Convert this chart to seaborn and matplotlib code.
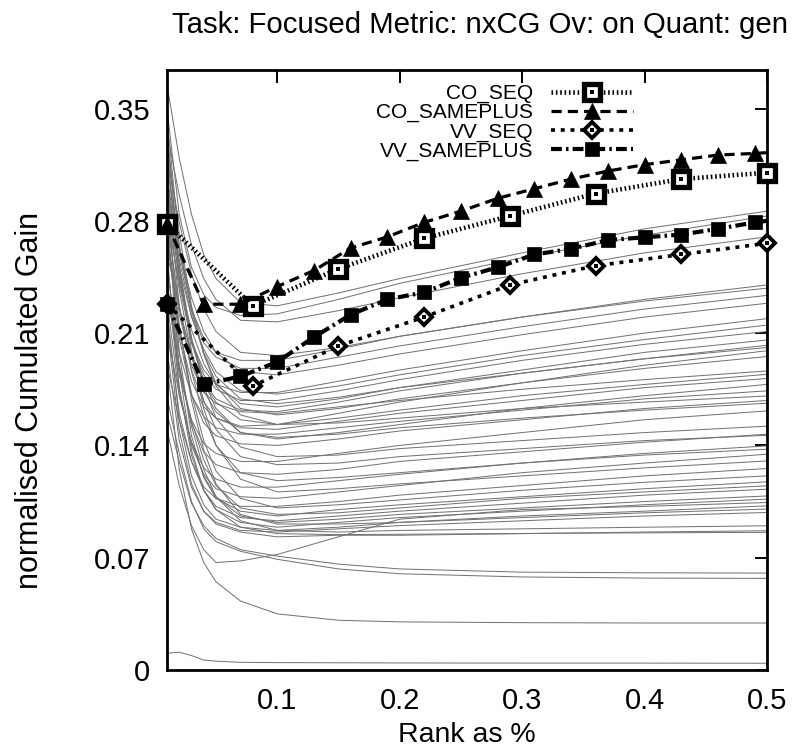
import matplotlib
matplotlib.use("Agg")
import numpy as np
import pandas as pd
import matplotlib.pyplot as plt
import seaborn as sns
from matplotlib.lines import Line2D
from matplotlib.legend_handler import HandlerTuple

# ---------------- data ----------------
title = "Task: Focused Metric: nxCG Ov: on Quant: gen"
x_label = "Rank as %"
y_label = "normalised Cumulated Gain"
x_ticks = [0.1, 0.2, 0.3, 0.4, 0.5]
x_tick_labels = ["0.1", "0.2", "0.3", "0.4", "0.5"]
y_ticks = [0, 0.07, 0.14, 0.21, 0.28, 0.35]
y_tick_labels = ["0", "0.07", "0.14", "0.21", "0.28", "0.35"]

# background runs (thin grey curves), sampled at these ranks
run_x = [0.01, 0.02, 0.03, 0.04, 0.05, 0.07, 0.10, 0.15, 0.20, 0.30, 0.40, 0.50]
background_runs = [
    [.365, .319, .284, .259, .244, .229, .227, .235, .244, .260, .275, .286],
    [.350, .284, .251, .234, .226, .221, .222, .231, .241, .257, .271, .283],
    [.335, .296, .265, .244, .231, .218, .217, .224, .232, .247, .260, .270],
    [.330, .260, .225, .207, .198, .193, .193, .200, .208, .220, .231, .240],
    [.320, .279, .247, .225, .211, .198, .196, .201, .208, .220, .230, .238],
    [.345, .265, .225, .204, .195, .188, .188, .195, .202, .214, .225, .2335],
    [.300, .262, .232, .211, .198, .186, .184, .190, .197, .209, .220, .2286],
    [.310, .240, .205, .187, .178, .173, .173, .180, .187, .199, .210, .219],
    [.290, .251, .220, .200, .186, .174, .172, .177, .184, .196, .206, .215],
    [.325, .245, .205, .184, .175, .168, .168, .174, .181, .193, .203, .211],
    [.280, .242, .212, .191, .178, .166, .164, .169, .176, .187, .198, .2057],
    [.340, .249, .204, .180, .169, .162, .161, .167, .174, .185, .194, .2024],
    [.300, .256, .221, .198, .183, .169, .166, .170, .176, .185, .194, .201],
    [.270, .210, .180, .164, .157, .152, .153, .160, .167, .179, .190, .199],
    [.315, .264, .224, .197, .179, .163, .159, .163, .169, .179, .188, .1954],
    [.285, .222, .190, .173, .166, .161, .160, .164, .168, .175, .181, .1864],
    [.260, .225, .197, .179, .167, .156, .153, .157, .162, .171, .178, .1843],
    [.305, .227, .187, .167, .157, .151, .150, .155, .160, .168, .176, .1817],
    [.295, .245, .207, .180, .163, .148, .144, .148, .153, .163, .171, .178],
    [.250, .198, .171, .158, .151, .147, .147, .151, .155, .162, .169, .174],
    [.330, .272, .227, .197, .177, .159, .153, .154, .157, .163, .167, .1708],
    [.275, .207, .172, .154, .146, .141, .140, .144, .149, .156, .163, .168],
    [.265, .226, .195, .174, .161, .148, .145, .147, .151, .157, .162, .1663],
    [.240, .184, .156, .141, .135, .130, .130, .135, .140, .148, .156, .1615],
    [.310, .252, .207, .177, .157, .139, .133, .134, .138, .143, .148, .152],
    [.255, .188, .154, .136, .128, .123, .122, .125, .130, .136, .142, .147],
    [.290, .237, .196, .168, .150, .133, .128, .129, .133, .138, .143, .1463],
    [.230, .171, .142, .126, .119, .114, .114, .118, .122, .129, .135, .1397],
    [.280, .227, .186, .158, .140, .123, .118, .120, .123, .129, .134, .1376],
    [.245, .175, .140, .122, .113, .108, .107, .111, .115, .123, .129, .1345],
    [.320, .252, .199, .163, .140, .119, .111, .113, .116, .121, .126, .1303],
    [.220, .160, .130, .114, .107, .102, .102, .105, .109, .115, .121, .1256],
    [.270, .215, .172, .143, .124, .107, .101, .103, .106, .112, .117, .121],
    [.300, .198, .146, .120, .107, .099, .096, .100, .103, .108, .113, .1173],
    [.235, .190, .155, .131, .115, .101, .097, .098, .101, .107, .111, .1148],
    [.260, .176, .134, .112, .102, .095, .093, .096, .099, .104, .109, .1127],
    [.210, .172, .142, .121, .108, .096, .092, .094, .097, .101, .105, .1085],
    [.285, .187, .137, .112, .100, .092, .089, .092, .095, .099, .103, .1065],
    [.150, .115, .090, .075, .067, .068, .072, .083, .094, .100, .102, .1044],
    [.225, .156, .121, .103, .094, .089, .087, .089, .092, .096, .099, .1023],
    [.275, .215, .168, .137, .116, .097, .091, .091, .092, .095, .098, .1003],
    [.200, .143, .114, .099, .092, .087, .086, .088, .090, .093, .096, .0982],
    [.240, .190, .152, .125, .108, .093, .087, .086, .087, .088, .089, .0899],
    [.215, .149, .116, .099, .091, .086, .083, .084, .084, .085, .086, .0868],
    [.190, .156, .130, .112, .100, .089, .085, .0844, .0846, .0851, .0855, .0858],
    [.160, .130, .104, .090, .082, .075, .071, .066, .063, .061, .0606, .0604],
    [.170, .135, .105, .088, .080, .074, .069, .063, .060, .058, .0573, .0571],
    [.190, .125, .088, .067, .055, .043, .035, .031, .030, .0295, .0293, .0293],
    [.0104, .0111, .0090, .0062, .0055, .0048, .0046, .0045, .0044, .0043, .0043, .0042],
]

# highlighted runs
seq_x = [0.01, 0.08, 0.15, 0.22, 0.29, 0.36, 0.43, 0.50]
co_seq_y = [0.278, 0.227, 0.250, 0.269, 0.283, 0.297, 0.306, 0.310]
vv_seq_y = [0.228, 0.177, 0.202, 0.220, 0.240, 0.252, 0.259, 0.266]

sameplus_x = [0.01, 0.04, 0.07, 0.10, 0.13, 0.16, 0.19, 0.22, 0.25, 0.28,
              0.31, 0.34, 0.37, 0.40, 0.43, 0.46, 0.49, 0.50]
co_sameplus_y = [0.278, 0.228, 0.228, 0.239, 0.249, 0.263, 0.270, 0.279, 0.286,
                 0.294, 0.300, 0.306, 0.311, 0.315, 0.318, 0.321, 0.322, 0.3225]
vv_sameplus_y = [0.228, 0.178, 0.183, 0.192, 0.2075, 0.2215, 0.231, 0.2354, 0.2445,
                 0.251, 0.259, 0.2625, 0.268, 0.2697, 0.2714, 0.275, 0.279, 0.280]

series_names = ["CO_SEQ", "CO_SAMEPLUS", "VV_SEQ", "VV_SAMEPLUS"]

# ---------------- plot ----------------
sns.set_theme(style="white")
plt.rcParams["font.family"] = ["Liberation Sans", "DejaVu Sans"]
plt.rcParams["text.color"] = "black"
plt.rcParams["axes.labelcolor"] = "black"
plt.rcParams["xtick.color"] = "black"
plt.rcParams["ytick.color"] = "black"

fig = plt.figure(figsize=(7.94, 7.56), dpi=100)
ax = fig.add_axes([167 / 794, 1 - 670 / 756, 600 / 794, 600 / 756])

bg = pd.DataFrame(
    [(i, xv, yv) for i, run in enumerate(background_runs) for xv, yv in zip(run_x, run)],
    columns=["run", "x", "y"],
)
sns.lineplot(data=bg, x="x", y="y", units="run", estimator=None, color="#727272",
             linewidth=0.72, ax=ax, legend=False)

K = "black"
# CO_SEQ
co_seq_style = dict(color=K, linewidth=3.3, linestyle=(0, (0.35, 0.6)), dash_capstyle="butt",
                    marker="s", markersize=11, markerfacecolor="white",
                    markeredgecolor=K, markeredgewidth=3.8)
sns.lineplot(x=seq_x, y=co_seq_y, ax=ax, clip_on=False, zorder=5, **co_seq_style)
# CO_SAMEPLUS
co_sp_style = dict(color=K, linewidth=2.3, linestyle=(0, (3.2, 1.9)), dash_capstyle="butt",
                   marker="^", markersize=11.5, markerfacecolor=K, markeredgecolor=K,
                   markeredgewidth=0.5)
sns.lineplot(x=sameplus_x, y=co_sameplus_y, ax=ax, clip_on=False, zorder=5,
             markevery=list(range(len(sameplus_x) - 1)), **co_sp_style)
# VV_SEQ
vv_seq_style = dict(color=K, linewidth=2.6, linestyle=(0, (1.1, 1.6)), dash_capstyle="butt",
                    marker="D", markersize=8.5, markerfacecolor="white",
                    markeredgecolor=K, markeredgewidth=2.8)
sns.lineplot(x=seq_x, y=vv_seq_y, ax=ax, clip_on=False, zorder=5, **vv_seq_style)
# VV_SAMEPLUS
vv_sp_style = dict(color=K, linewidth=3.0, linestyle=(0, (2.6, 1.0, 0.6, 1.0)), dash_capstyle="butt",
                   marker="s", markersize=10, markerfacecolor=K, markeredgecolor=K,
                   markeredgewidth=0.5)
sns.lineplot(x=sameplus_x, y=vv_sameplus_y, ax=ax, clip_on=False, zorder=5,
             markevery=list(range(len(sameplus_x) - 1)), **vv_sp_style)

# small centre dots inside the open markers
dot_style = dict(color=K, linestyle="none", marker="s", markersize=2.6,
                 markeredgewidth=0, markeredgecolor=K)
sns.lineplot(x=seq_x, y=co_seq_y, ax=ax, clip_on=False, zorder=6, **dot_style)
sns.lineplot(x=seq_x, y=vv_seq_y, ax=ax, clip_on=False, zorder=6, **dot_style)

ax.set_xlim(0.01, 0.5)
ax.set_ylim(0, 0.374)
ax.set_xticks(x_ticks)
ax.set_xticklabels(x_tick_labels)
ax.set_yticks(y_ticks)
ax.set_yticklabels(y_tick_labels)
ax.set_xlabel("")
ax.set_ylabel("")
ax.tick_params(axis="both", direction="in", length=9, width=1.4, colors=K,
               labelcolor=K, top=True, right=True, labelsize=21)
ax.tick_params(axis="x", pad=12)
ax.tick_params(axis="y", pad=12)
for sp in ax.spines.values():
    sp.set_visible(True)
    sp.set_color(K)
    sp.set_linewidth(2.0)
ax.grid(False)

fig.text(480 / 794, 1 - 25 / 756, title, ha="center", va="center", fontsize=21.2, color=K)
fig.text(467 / 794, 1 - 735 / 756, x_label, ha="center", va="center", fontsize=20.5, color=K)
fig.text(30 / 794, 1 - 400 / 756, y_label, ha="center", va="center", rotation=90,
         fontsize=22, color=K)

# legend
dot_proxy = Line2D([], [], **dot_style)
h_co_seq = Line2D([], [], **co_seq_style)
h_co_sp = Line2D([], [], **co_sp_style)
h_vv_seq = Line2D([], [], **vv_seq_style)
h_vv_sp = Line2D([], [], **vv_sp_style)
leg = ax.legend([(h_co_seq, dot_proxy), h_co_sp, (h_vv_seq, dot_proxy), h_vv_sp],
                series_names, loc="upper right", bbox_to_anchor=(0.777, 0.977),
                frameon=False, fontsize=15, markerfirst=False, numpoints=1,
                handlelength=3.95, handletextpad=0.85, labelspacing=0.0,
                borderpad=0, borderaxespad=0,
                handler_map={tuple: HandlerTuple(ndivide=1, pad=0)})
for t in leg.get_texts():
    t.set_color(K)
leg.set_zorder(10)

fig.savefig("out.png", dpi=100)
